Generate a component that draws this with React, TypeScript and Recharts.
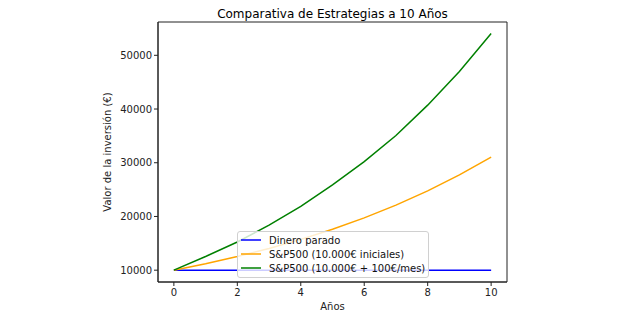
import React from "react";
import { LineChart, Line, XAxis, YAxis, ReferenceArea } from "recharts";

const years = [0, 1, 2, 3, 4, 5, 6, 7, 8, 9, 10];
const dineroParado = [10000, 10000, 10000, 10000, 10000, 10000, 10000, 10000, 10000, 10000, 10000];
const spInicial = [10000, 11200, 12540, 14050, 15740, 17620, 19740, 22110, 24760, 27730, 31060];
const spMensual = [10000, 12540, 15240, 18400, 21860, 25900, 30200, 35060, 40720, 47000, 54060];

const xTicks = [0, 2, 4, 6, 8, 10];
const yTicks = [10000, 20000, 30000, 40000, 50000];

const seriesNames = [
  "Dinero parado",
  "S&P500 (10.000€ iniciales)",
  "S&P500 (10.000€ + 100€/mes)",
];
const seriesColors = ["#0000ff", "#ffa500", "#008000"];
const seriesKeys = ["parado", "inicial", "mensual"];

const data = years.map((y, i) => ({
  year: y,
  parado: dineroParado[i],
  inicial: spInicial[i],
  mensual: spMensual[i],
}));

const FONT = "DejaVu Sans, sans-serif";
const AXIS = "#222";

const LegendBox = () => (
  <div
    style={{
      position: "absolute",
      left: 237,
      top: 231,
      border: "1px solid #d0d0d0",
      borderRadius: 3,
      background: "rgba(255,255,255,0.8)",
      padding: "1px 3px 2px 3px",
      fontFamily: FONT,
      fontSize: 10,
      color: "#111",
      textAlign: "left",
    }}
  >
    {seriesNames.map((n, i) => (
      <div key={n} style={{ display: "flex", alignItems: "center", height: 14 }}>
        <svg width={20} height={4} style={{ marginRight: 8 }}>
          <line x1={0} y1={2} x2={20} y2={2} stroke={seriesColors[i]} strokeWidth={1.5} />
        </svg>
        <span style={{ whiteSpace: "nowrap" }}>{n}</span>
      </div>
    ))}
  </div>
);

export default function App() {
  return (
    <div style={{ position: "absolute", left: 0, top: 0, width: 640, height: 326, background: "#fff" }}>
      <div
        style={{
          position: "absolute",
          left: 158,
          width: 349,
          top: 7,
          textAlign: "center",
          fontFamily: FONT,
          fontSize: 12,
          color: "#000",
        }}
      >
        Comparativa de Estrategias a 10 Años
      </div>
      <LineChart
        width={640}
        height={326}
        data={data}
        margin={{ top: 22, right: 133, bottom: 14, left: 108 }}
      >
        <XAxis
          dataKey="year"
          type="number"
          domain={[-0.5, 10.5]}
          ticks={xTicks}
          allowDataOverflow
          interval={0}
          tickSize={4}
          tickMargin={3}
          height={30}
          stroke={AXIS}
          tick={{ fontFamily: FONT, fontSize: 10, fill: AXIS }}
          label={{ value: "Años", position: "insideBottom", offset: 2, fontFamily: FONT, fontSize: 10, fill: AXIS }}
        />
        <YAxis
          type="number"
          domain={[7800, 56200]}
          ticks={yTicks}
          allowDataOverflow
          interval={0}
          tickSize={4}
          tickMargin={2}
          width={50}
          stroke={AXIS}
          tick={{ fontFamily: FONT, fontSize: 10, fill: AXIS }}
          label={{
            value: "Valor de la inversión (€)",
            angle: -90,
            position: "insideLeft",
            offset: -1,
            style: { textAnchor: "middle" },
            fontFamily: FONT,
            fontSize: 10,
            fill: AXIS,
          }}
        />
        <ReferenceArea
          x1={-0.5}
          x2={10.5}
          y1={7800}
          y2={56200}
          fill="none"
          fillOpacity={0}
          stroke={AXIS}
          strokeWidth={1}
          ifOverflow="visible"
        />
        {seriesKeys.map((k, i) => (
          <Line
            key={k}
            dataKey={k}
            name={seriesNames[i]}
            stroke={seriesColors[i]}
            strokeWidth={1.5}
            dot={false}
            type="linear"
            isAnimationActive={false}
          />
        ))}
      </LineChart>
      <LegendBox />
    </div>
  );
}
